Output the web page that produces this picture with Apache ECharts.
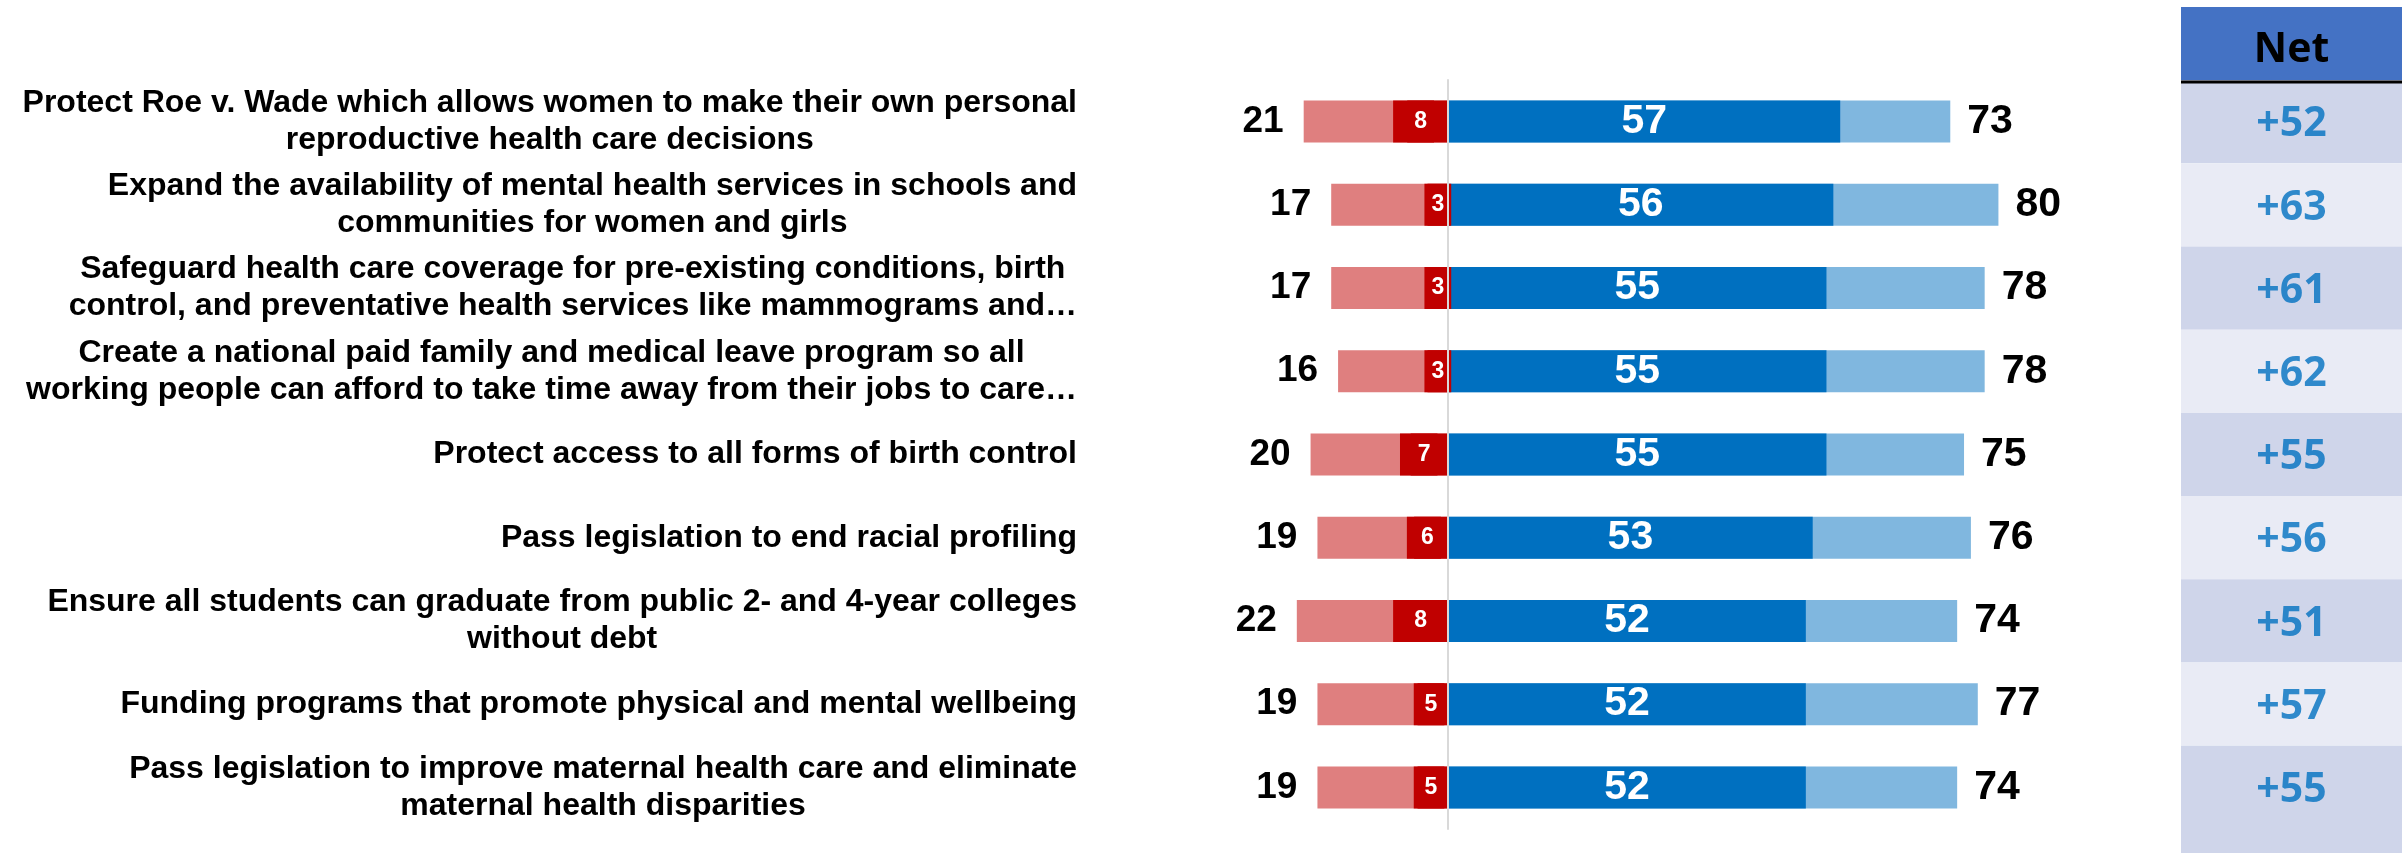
<!DOCTYPE html>
<html>
<head>
<meta charset="utf-8">
<script src="https://cdn.jsdelivr.net/npm/echarts@6.0.0/dist/echarts.min.js"></script>
<style>
  html, body { margin: 0; padding: 0; background: #ffffff; }
  #chart { width: 2402px; height: 853px; }
</style>
</head>
<body>
<div id="chart"></div>
<script>
// Policy proposals (top to bottom)
const categories = [
  'Protect Roe v. Wade which allows women to make their own personal\nreproductive health care decisions',
  'Expand the availability of mental health services in schools and\ncommunities for women and girls',
  'Safeguard health care coverage for pre-existing conditions, birth\ncontrol, and preventative health services like mammograms and\u2026',
  'Create a national paid family and medical leave program so all\nworking people can afford to take time away from their jobs to care\u2026',
  'Protect access to all forms of birth control',
  'Pass legislation to end racial profiling',
  'Ensure all students can graduate from public 2- and 4-year colleges\nwithout debt',
  'Funding programs that promote physical and mental wellbeing',
  'Pass legislation to improve maternal health care and eliminate\nmaternal health disparities'
];

// Percentages
const opposeTotal    = [21, 17, 17, 16, 20, 19, 22, 19, 19];
const strongOppose   = [8, 3, 3, 3, 7, 6, 8, 5, 5];
const strongSupport  = [57, 56, 55, 55, 55, 53, 52, 52, 52];
const supportTotal   = [73, 80, 78, 78, 75, 76, 74, 77, 74];
const netValues      = [52, 63, 61, 62, 55, 56, 51, 57, 55];

const LABEL_FONT = "'Liberation Sans', Arial, sans-serif";
const NET_FONT = "'Open Sans', 'Noto Sans', sans-serif";

const COL_LEFT = 2181;
const COL_WIDTH = 221;

const chart = echarts.init(document.getElementById('chart'), null, { renderer: 'canvas' });

const numLabel = (size, color) => ({
  show: true,
  fontFamily: LABEL_FONT,
  fontWeight: 'bold',
  fontSize: size,
  color: color
});

chart.setOption({
  animation: false,
  backgroundColor: '#ffffff',
  grid: [
    { left: 1173, width: 963, top: 80, height: 749, containLabel: false, outerBoundsMode: 'none' },
    { left: COL_LEFT, width: COL_WIDTH, top: 80, height: 749, containLabel: false, outerBoundsMode: 'none' }
  ],
  xAxis: [
    { gridIndex: 0, type: 'value', min: -40, max: 100, show: false },
    { gridIndex: 1, type: 'value', min: 0, max: 1, show: false }
  ],
  yAxis: [
    {
      gridIndex: 0,
      type: 'category',
      inverse: true,
      data: categories,
      z: 5,
      axisLine: { show: true, onZero: true, lineStyle: { color: '#D9D9D9', width: 2 } },
      axisTick: { show: false },
      splitLine: { show: false },
      axisLabel: {
        margin: 96,
        align: 'right',
        color: '#000000',
        formatter: (v) => v.split('\n').map(l => '{c|' + l + '}').join('\n'),
        rich: {
          c: {
            align: 'center',
            fontFamily: LABEL_FONT,
            fontWeight: 'bold',
            fontSize: 32,
            lineHeight: 37,
            color: '#000000'
          }
        }
      }
    },
    {
      gridIndex: 1,
      type: 'category',
      inverse: true,
      data: categories,
      axisLine: { show: false },
      axisTick: { show: false },
      axisLabel: { show: false },
      splitLine: { show: false },
      splitArea: { show: true, areaStyle: { color: ['#CFD5EA', '#E9EBF5'] } }
    }
  ],
  series: [
    {
      name: 'Oppose',
      type: 'bar',
      xAxisIndex: 0, yAxisIndex: 0,
      barWidth: 42,
      barGap: '-100%',
      data: opposeTotal.map(v => -v),
      itemStyle: { color: '#DF7F7F' },
      label: Object.assign(numLabel(37, '#000000'), {
        position: 'left', distance: 20,
        formatter: (p) => String(Math.abs(p.value))
      })
    },
    {
      name: 'Support',
      type: 'bar',
      xAxisIndex: 0, yAxisIndex: 0,
      barWidth: 42,
      barGap: '-100%',
      data: supportTotal,
      itemStyle: { color: '#80B7DF' },
      label: Object.assign(numLabel(41, '#000000'), {
        position: 'right', distance: 17
      })
    },
    {
      name: 'Strongly oppose',
      type: 'bar',
      xAxisIndex: 0, yAxisIndex: 0,
      barWidth: 42,
      barGap: '-100%',
      data: strongOppose.map(v => -v),
      itemStyle: { color: '#C00000' },
      label: Object.assign(numLabel(23, '#ffffff'), {
        position: 'inside',
        backgroundColor: '#C00000',
        padding: [9, 7],
        lineHeight: 24,
        formatter: (p) => String(Math.abs(p.value))
      })
    },
    {
      name: 'Strongly support',
      type: 'bar',
      xAxisIndex: 0, yAxisIndex: 0,
      barWidth: 42,
      barGap: '-100%',
      data: strongSupport,
      itemStyle: { color: '#0070C0' },
      label: Object.assign(numLabel(41, '#ffffff'), { position: 'inside' })
    },
    {
      name: 'Net',
      type: 'scatter',
      xAxisIndex: 1, yAxisIndex: 1,
      symbolSize: 0,
      data: netValues.map((v, i) => [0.5, i]),
      label: {
        show: true,
        position: 'inside',
        offset: [0, 3],
        fontFamily: NET_FONT,
        fontWeight: 'bold',
        fontSize: 41,
        color: '#0070C0',
        formatter: (p) => '+' + netValues[p.dataIndex]
      },
      silent: true
    }
  ],
  graphic: [
    // header cell of the net column
    {
      type: 'rect',
      shape: { x: COL_LEFT, y: 7, width: COL_WIDTH, height: 74 },
      style: { fill: '#4472C4' }
    },
    {
      type: 'text',
      x: COL_LEFT + COL_WIDTH / 2,
      y: 50,
      style: {
        text: 'Net',
        fontFamily: NET_FONT,
        fontWeight: 'bold',
        fontSize: 41,
        fill: '#000000',
        align: 'center',
        verticalAlign: 'middle'
      }
    },
    {
      type: 'line',
      shape: { x1: COL_LEFT, y1: 82, x2: COL_LEFT + COL_WIDTH, y2: 82 },
      style: { stroke: '#000000', lineWidth: 3 },
      z: 10
    },
    // last row of the net column runs to the bottom edge
    {
      type: 'rect',
      shape: { x: COL_LEFT, y: 829, width: COL_WIDTH, height: 24 },
      style: { fill: '#CFD5EA' }
    }
  ]
});
</script>
</body>
</html>
